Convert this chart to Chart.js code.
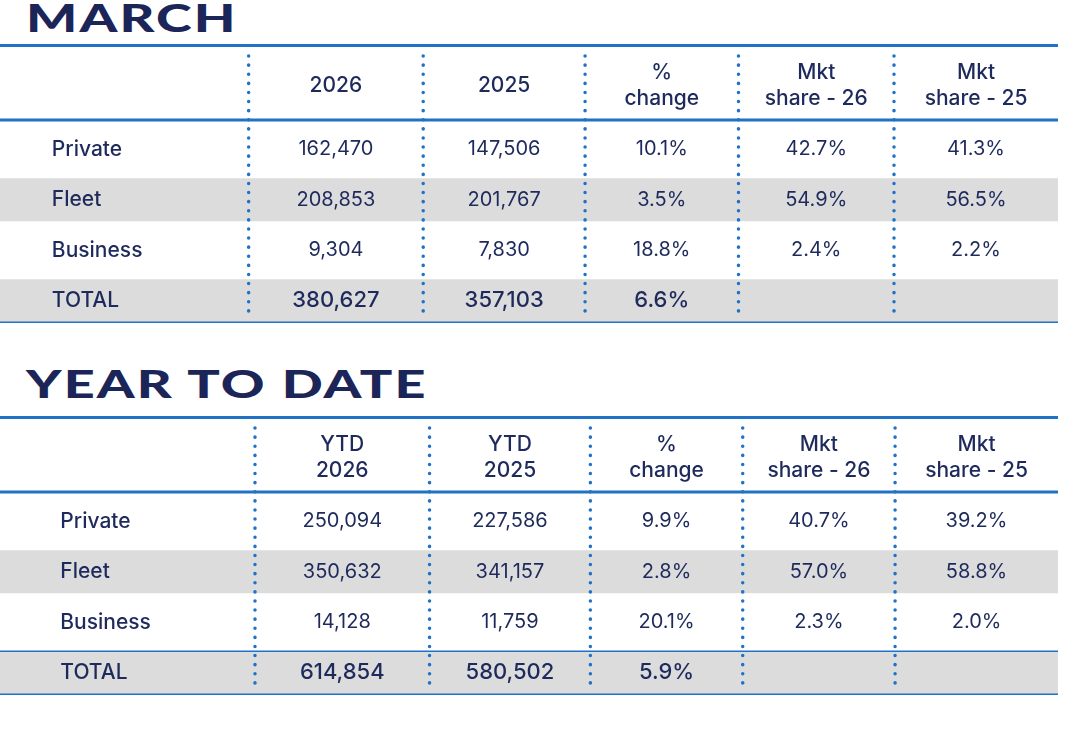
<!DOCTYPE html>
<html><head><meta charset="utf-8">
<script src="https://cdn.jsdelivr.net/npm/chart.js@4/dist/chart.umd.min.js"></script>
<style>
body{margin:0;background:#fff;width:1080px;height:740px;position:relative;overflow:hidden;font-family:Inter,sans-serif}
h1{position:absolute;left:26px;margin:0;font-family:Lato,sans-serif;font-weight:900;font-size:38px;color:#1b2558;letter-spacing:1.5px;transform:scaleX(1.42);transform-origin:left}
.box{position:absolute;left:0;width:1058px}
</style></head><body>
<h1 style="top:-6px">MARCH</h1>
<h1 style="top:360px">YEAR TO DATE</h1>
<div class="box" style="top:44px;height:282px"><canvas id="march"></canvas></div>
<div class="box" style="top:416px;height:282px"><canvas id="ytd"></canvas></div>
<script>
const rowLabels = ['Private', 'Fleet', 'Business', 'TOTAL'];
const marchHeaders = ['2026', '2025', '% change', 'Mkt share - 26', 'Mkt share - 25'];
const ytdHeaders = ['YTD 2026', 'YTD 2025', '% change', 'Mkt share - 26', 'Mkt share - 25'];
const march2026 = ['162,470', '208,853', '9,304', '380,627'];
const march2025 = ['147,506', '201,767', '7,830', '357,103'];
const marchChange = ['10.1%', '3.5%', '18.8%', '6.6%'];
const marchShare26 = ['42.7%', '54.9%', '2.4%', ''];
const marchShare25 = ['41.3%', '56.5%', '2.2%', ''];
const ytd2026 = ['250,094', '350,632', '14,128', '614,854'];
const ytd2025 = ['227,586', '341,157', '11,759', '580,502'];
const ytdChange = ['9.9%', '2.8%', '20.1%', '5.9%'];
const ytdShare26 = ['40.7%', '57.0%', '2.3%', ''];
const ytdShare25 = ['39.2%', '58.8%', '2.0%', ''];
const shaded = [null, 100, null, 100];

const navy = '#1e2a5c';
const blue = '#1f72c6';
const HEADER_H = 80;
const BAR_PCT = 0.85;

function makeTable(id, headers, cols, opt) {
  const tablePlugin = {
    id: 'tableText',
    afterDatasetsDraw(chart) {
      const { ctx, chartArea: a, scales: { x, y } } = chart;
      const top = a.top - HEADER_H;
      const rowH = y.getPixelForValue(1) - y.getPixelForValue(0);
      const half = rowH * BAR_PCT / 2;
      const bottom = y.getPixelForValue(3) + half;
      ctx.save();
      ctx.strokeStyle = blue;
      ctx.lineWidth = 3;
      [top + 1.5, a.top - 4].forEach((py) => {
        ctx.beginPath(); ctx.moveTo(a.left, py); ctx.lineTo(a.right, py); ctx.stroke();
      });
      ctx.lineWidth = 1.5;
      const lines = [bottom];
      if (opt.lineAboveTotal) lines.push(y.getPixelForValue(3) - half);
      lines.forEach((py) => {
        ctx.beginPath(); ctx.moveTo(a.left, py); ctx.lineTo(a.right, py); ctx.stroke();
      });
      // dotted column separators
      ctx.setLineDash([0.1, 9]);
      ctx.lineCap = 'round';
      ctx.lineWidth = 3.5;
      opt.edges.forEach((e) => {
        const px = x.getPixelForValue(e);
        ctx.beginPath(); ctx.moveTo(px, top + 12); ctx.lineTo(px, bottom - 3); ctx.stroke();
      });
      ctx.setLineDash([]);
      ctx.fillStyle = navy;
      ctx.textBaseline = 'middle';
      ctx.font = '500 21px Inter, sans-serif';
      ctx.textAlign = 'center';
      const centers = opt.edges.map((e, i) => (e + (opt.edges[i + 1] ?? 100)) / 2);
      headers.forEach((h, i) => {
        const px = x.getPixelForValue(centers[i]);
        const words = h.split(' ');
        const parts = words.length === 1 ? [h] : words.length === 2 ? words : [words[0], words.slice(1).join(' ')];
        const mid = top + (HEADER_H - 4) / 2 + 4;
        parts.forEach((p, k) => ctx.fillText(p, px, mid + (k - (parts.length - 1) / 2) * 26));
      });
      rowLabels.forEach((r, j) => {
        const py = y.getPixelForValue(j);
        ctx.textAlign = 'left';
        ctx.font = '500 21px Inter, sans-serif';
        ctx.fillText(r, x.getPixelForValue(opt.labelX), py);
        ctx.textAlign = 'center';
        cols.forEach((c, i) => {
          ctx.font = (j === 3 ? '500 22px' : '400 20px') + ' Inter, sans-serif';
          ctx.fillText(c[j], x.getPixelForValue(centers[i]), py);
        });
      });
      ctx.restore();
    }
  };
  return new Chart(document.getElementById(id), {
    type: 'bar',
    data: {
      labels: rowLabels,
      datasets: [{ data: shaded, backgroundColor: '#dcdcdc', barPercentage: 1, categoryPercentage: BAR_PCT }]
    },
    options: {
      indexAxis: 'y',
      responsive: true,
      maintainAspectRatio: false,
      animation: false,
      layout: { padding: { top: HEADER_H, left: 0, right: 0, bottom: 0 } },
      plugins: { legend: { display: false }, tooltip: { enabled: false } },
      scales: {
        x: { display: false, min: 0, max: 100 },
        y: { display: false }
      }
    },
    plugins: [tablePlugin]
  });
}

makeTable('march', marchHeaders, [march2026, march2025, marchChange, marchShare26, marchShare25],
  { edges: [23.5, 40, 55.3, 69.8, 84.5], labelX: 4.9, lineAboveTotal: false });
makeTable('ytd', ytdHeaders, [ytd2026, ytd2025, ytdChange, ytdShare26, ytdShare25],
  { edges: [24.1, 40.6, 55.8, 70.2, 84.6], labelX: 5.7, lineAboveTotal: true });
</script>
</body></html>
